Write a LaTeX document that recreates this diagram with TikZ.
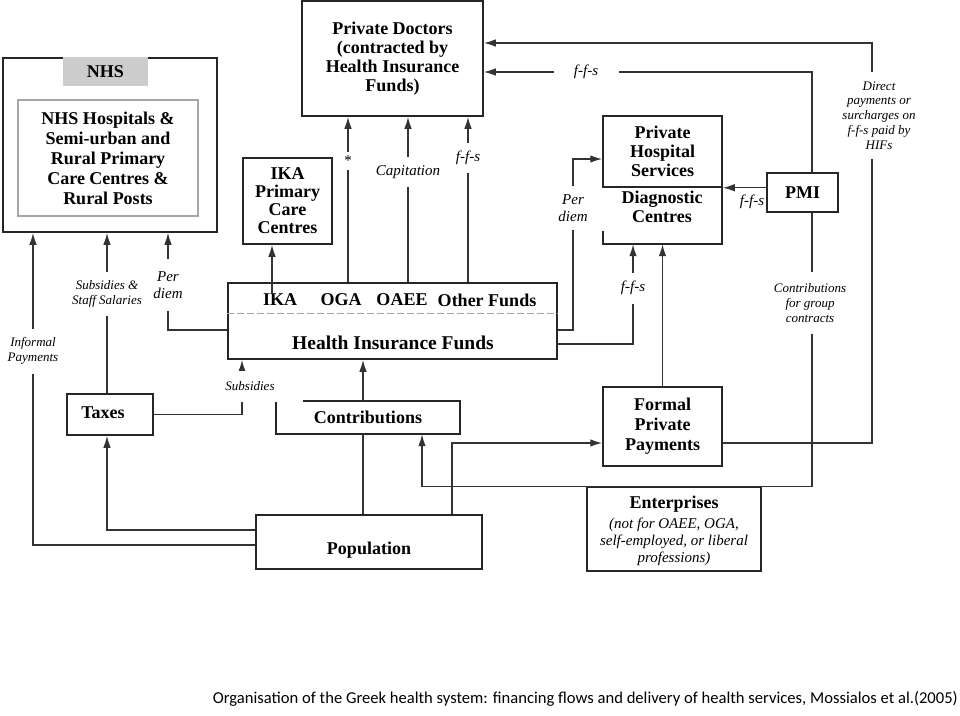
\documentclass[tikz,border=0pt]{standalone}
\usepackage{fontspec}
\setmainfont{Liberation Serif}
\newfontfamily\capfont{Carlito}
\usetikzlibrary{arrows.meta}
\begin{document}
\begin{tikzpicture}[x=1pt,y=-1pt,
  box/.style={draw=black!85, line width=1.5pt, inner sep=0pt},
  bt/.style={font=\bfseries\fontsize{18}{19.5}\selectfont, align=center, inner sep=0pt},
  flow/.style={draw=black!80, line width=1.4pt},
  arr/.style={flow, -{Latex[length=12pt,width=7.5pt]}},
  lab/.style={font=\itshape\fontsize{13}{14.8}\selectfont, align=center, fill=white, inner xsep=1pt, inner ysep=0pt},
  labm/.style={font=\itshape\fontsize{15}{16.5}\selectfont, align=center, fill=white, inner xsep=1pt, inner ysep=0pt},
]
\fill[white] (0,0) rectangle (960,715);
\useasboundingbox (0,0) rectangle (960,715);

% ---------- boxes ----------
\node[box, minimum width=214pt, minimum height=174pt] (nhs) at (110,145) {};
\node[fill=black!20, minimum width=85pt, minimum height=29pt, inner sep=0pt,
      font=\bfseries\fontsize{18}{20}\selectfont] (nhslab) at (105.5,71.5) {NHS};
\node[draw=black!35, line width=1.1pt, minimum width=180pt, minimum height=116pt, bt,
      font=\bfseries\fontsize{18}{20}\selectfont] (nhsin) at (108,158)
      {NHS Hospitals \&\\Semi-urban and\\Rural Primary\\Care Centres \&\\Rural Posts};

\node[box, bt, minimum width=181pt, minimum height=115pt,
      font=\bfseries\fontsize{18}{19}\selectfont] (pd) at (392.5,58.5)
      {Private Doctors\\(contracted by\\Health Insurance\\Funds)};

\node[box, bt, minimum width=89pt, minimum height=86pt,
      font=\bfseries\fontsize{18}{18}\selectfont] (ika) at (287.5,201)
      {IKA\\Primary\\Care\\Centres};

\node[box, bt, minimum width=119pt, minimum height=71pt,
      font=\bfseries\fontsize{18}{19}\selectfont] (phs) at (662.5,151.5)
      {Private\\Hospital\\Services};
\node[minimum width=119pt, minimum height=57pt, inner sep=0pt] (diag) at (662.5,215.5) {};
\draw[box] (diag.north east) -- (diag.south east) -- (diag.south west) -- ([yshift=13pt]diag.south west);
\node[bt, font=\bfseries\fontsize{18}{19}\selectfont] (diagt) at (662,207) {Diagnostic\\Centres};

\node[box, bt, minimum width=71pt, minimum height=39pt] (pmi) at (802.5,192.5) {PMI};

\node[box, minimum width=329pt, minimum height=76pt] (hif) at (392.5,321) {};
\draw[black!35, line width=0.9pt, dash pattern=on 7pt off 3pt]
      ([yshift=8pt]hif.west) -- ([yshift=8pt]hif.east);
\node[bt] (tika) at (280,300) {IKA};
\node[bt] (toga) at (341,300) {OGA};
\node[bt] (toaee) at (402,300) {OAEE};
\node[bt] (toth) at (487,300) {Other Funds};
\node[bt, font=\bfseries\fontsize{19.5}{21}\selectfont] (thif) at (393,343) {Health Insurance Funds};

\node[box, minimum width=86pt, minimum height=41pt] (taxes) at (110,414.5) {};
\node[bt] (ttax) at (103,413) {Taxes};

\node[bt, minimum width=184pt, minimum height=33pt] (contrib) at (368,417.5) {Contributions};
\draw[box] ([xshift=27pt]contrib.north west) -- (contrib.north east) -- (contrib.south east)
      -- (contrib.south west) -- ([yshift=-1.5pt]contrib.north west);

\node[box, bt, minimum width=119pt, minimum height=79pt,
      font=\bfseries\fontsize{18}{20}\selectfont] (fpp) at (662.5,426.5)
      {Formal\\Private\\Payments};

\node[box, minimum width=174pt, minimum height=84pt] (ent) at (674,529) {};
\node[bt] (tent1) at (674,504) {Enterprises};
\node[font=\itshape\fontsize{15}{16.7}\selectfont, align=center, inner sep=0pt] (tent2) at (674,542)
      {(not for OAEE, OGA,\\self-employed, or liberal\\professions)};

\node[box, minimum width=226pt, minimum height=54pt] (pop) at (369,542) {};
\node[bt] (tpop) at (369,550) {Population};

% ---------- helper coordinates ----------
\coordinate (yA) at (0,72);
\coordinate (yB) at (0,43);
\coordinate (xB) at (872,0);
\coordinate (yC) at (0,443);
\coordinate (xC) at (422,0);
\coordinate (yD) at (0,330);
\coordinate (xD) at (573,0);
\coordinate (yE) at (0,159);
\coordinate (yF) at (0,344);
\coordinate (xF) at (633,0);
\coordinate (xG) at (452,0);
\coordinate (xH) at (363,0);
\coordinate (yI) at (0,530);
\coordinate (yJ) at (0,545);
\coordinate (xT) at (107,0);
\coordinate (xI) at (33,0);
\coordinate (xS) at (242,0);
\coordinate (xP) at (168,0);
\coordinate (xK) at (272,0);
\coordinate (x1) at (348,0);
\coordinate (x2) at (408,0);
\coordinate (x3) at (468,0);
\coordinate (xM) at (812,0);

% ---------- connectors ----------
\draw[arr] (pmi.north -| xM) |- (pd.east |- yA);
\draw[arr] (fpp.east |- yC) -| (xB |- yB) -- (pd.east |- yB);
\draw[arr] (pmi.west |- phs.south) -- (phs.south east);
\draw[arr] (pmi.south -| xM) |- (xC |- ent.north) -- (xC |- contrib.south);
\draw[arr] (hif.east |- yD) -| (xD |- yE) -- (phs.west |- yE);
\draw[arr] (hif.east |- yF) -| (xF |- diag.south);
\draw[arr] (fpp.north) -- (fpp.north |- diag.south);
\draw[arr] (pop.north -| xG) |- (fpp.west |- yC);
\draw[flow] (pop.north -| xH) -- (contrib.south -| xH);
\draw[arr] (contrib.north -| xH) -- (hif.south -| xH);
\draw[arr] (pop.west |- yI) -| (taxes.south -| xT);
\draw[arr] (pop.west |- yJ) -| (nhs.south -| xI);
\draw[arr] (taxes.north -| xT) -- (nhs.south -| xT);
\draw[arr] (taxes.east) -| (hif.south -| xS);
\draw[arr] (hif.west |- yD) -| (nhs.south -| xP);
\draw[arr] (tika.north -| xK) -- (ika.south -| xK);
\draw[arr] (hif.north -| x1) -- (pd.south -| x1);
\draw[arr] (hif.north -| x2) -- (pd.south -| x2);
\draw[arr] (hif.north -| x3) -- (pd.south -| x3);

% ---------- labels ----------
\node[labm, font=\fontsize{15}{16}\selectfont, minimum height=18pt] (lstar) at (348,161) {*};
\node[labm, minimum height=30pt] (lcap) at (408,172) {Capitation};
\node[labm, minimum height=30pt] (lffs1) at (468,158) {f-f-s};
\node[labm, minimum width=65pt] (lffs2) at (586,72) {f-f-s};
\node[lab, minimum height=87pt] (ldir) at (879,115.5)
      {Direct\\payments or\\surcharges on\\f-f-s paid by\\HIFs};
\node[labm] (lffs3) at (752,202) {f-f-s};
\node[labm, minimum height=44pt] (lperd2) at (573,208) {Per\\diem};
\node[labm, minimum height=31pt] (lffs4) at (633,288) {f-f-s};
\node[lab, minimum height=62pt] (lcgc) at (810,303) {Contributions\\for group\\contracts};
\node[lab, minimum height=44pt] (lsss) at (107,294) {Subsidies \&\\Staff Salaries};
\node[labm, minimum height=52pt] (lperd1) at (168,285) {Per\\diem};
\node[lab, minimum height=45pt] (linf) at (33,351) {Informal\\Payments};
\node[lab, minimum height=31pt] (lsubs) at (250,386) {Subsidies};

% ---------- caption ----------
\node[font=\capfont\fontsize{16.6}{18}\selectfont, anchor=base east, inner sep=0pt] (caption) at (958,703)
      {Organisation of the Greek health system: financing flows and delivery of health services, Mossialos et al.(2005)};
\end{tikzpicture}
\end{document}
